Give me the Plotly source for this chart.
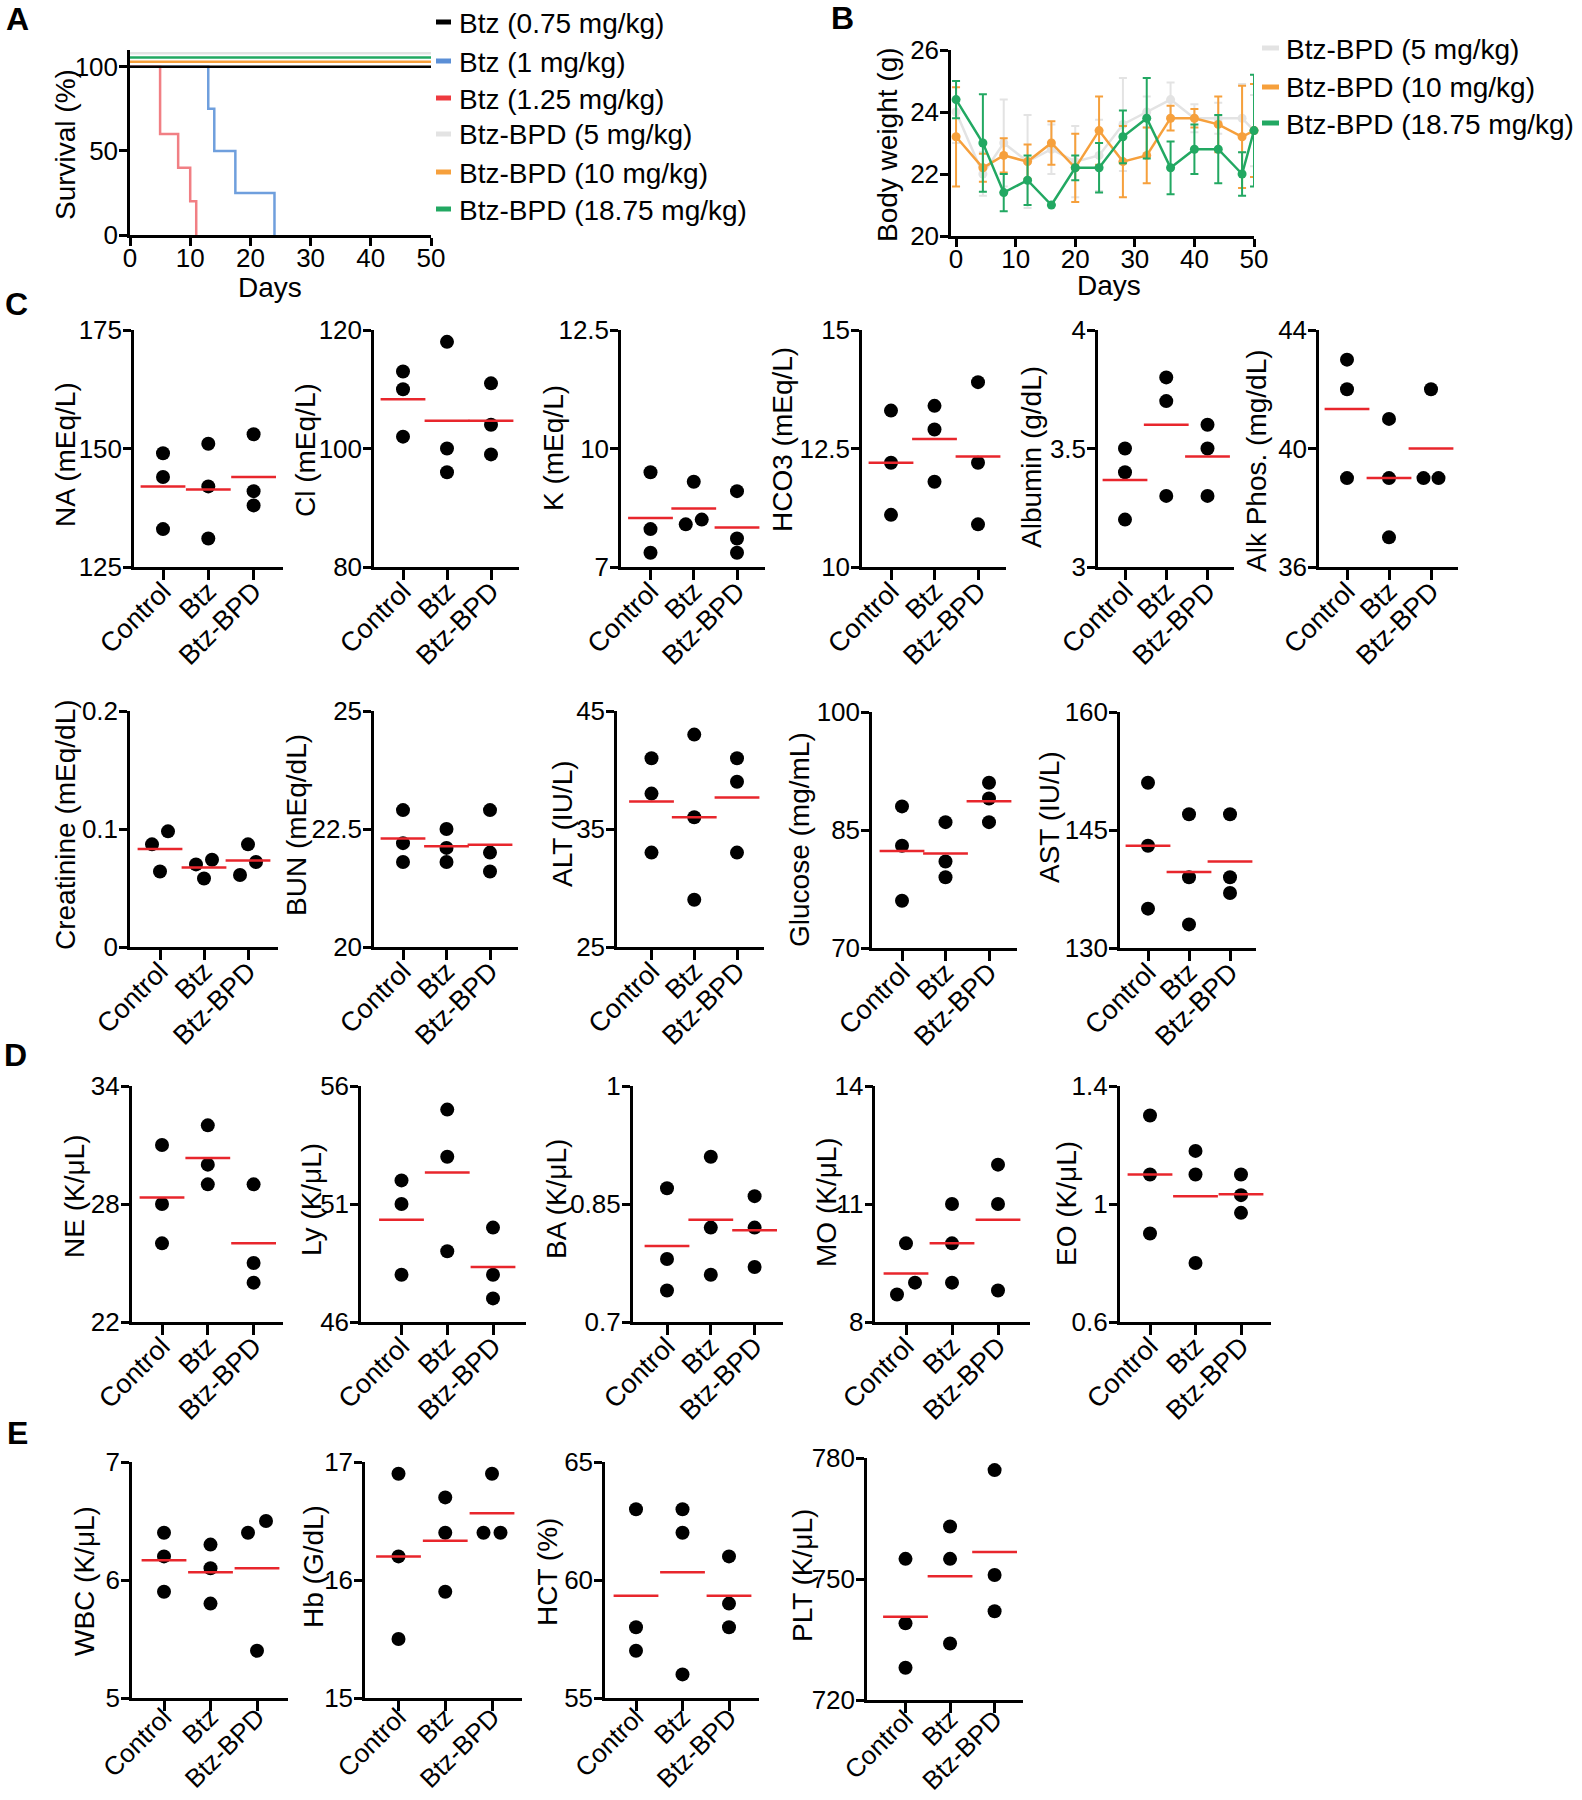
import plotly.graph_objects as go

W, H = 1582, 1800
FONT = "Liberation Sans, Arial, Helvetica, sans-serif"

# ======================= DATA =======================
# Panel A: survival (%)
surv_names = ["Btz (0.75 mg/kg)", "Btz (1 mg/kg)", "Btz (1.25 mg/kg)",
              "Btz-BPD (5 mg/kg)", "Btz-BPD (10 mg/kg)", "Btz-BPD (18.75 mg/kg)"]
surv_btz075_days = [0, 50]
surv_btz075_pct = [100, 100]
surv_btz1_days = [0, 13, 14, 17.5, 24]
surv_btz1_pct = [100, 75, 50, 25, 0]
surv_btz125_days = [0, 5, 8, 10, 11]
surv_btz125_pct = [100, 60, 40, 20, 0]
surv_bpd5_days = [0, 50]
surv_bpd5_pct = [100, 100]
surv_bpd10_days = [0, 50]
surv_bpd10_pct = [100, 100]
surv_bpd1875_days = [0, 50]
surv_bpd1875_pct = [100, 100]
surv_x_ticks = [0, 10, 20, 30, 40, 50]
surv_y_ticks = [0, 50, 100]

# Panel B: body weight (g), mean +/- error
bw_names = ["Btz-BPD (5 mg/kg)", "Btz-BPD (10 mg/kg)", "Btz-BPD (18.75 mg/kg)"]
bw_days = [0, 4.5, 8, 12, 16, 20, 24, 28, 32, 36, 40, 44, 48, 50]
bw5_mean = [24.0, 22.0, 23.0, 22.4, 22.8, 22.4, 22.6, 23.6, 24.0, 24.4, 23.8, 23.8, 23.8, 23.4]
bw5_err = [1.0, 0.7, 1.4, 1.5, 0.8, 1.15, 1.15, 1.5, 0.5, 0.55, 0.45, 0.5, 1.1, 1.15]
bw10_mean = [23.2, 22.2, 22.6, 22.4, 23.0, 22.2, 23.4, 22.4, 22.6, 23.8, 23.8, 23.6, 23.2, 23.4]
bw10_err = [1.6, 0.45, 0.55, 0.55, 0.7, 1.1, 1.1, 1.15, 0.9, 0.4, 0.3, 0.9, 1.65, 1.5]
bw1875_mean = [24.4, 23.0, 21.4, 21.8, 21.0, 22.2, 22.2, 23.2, 23.8, 22.2, 22.8, 22.8, 22.0, 23.4]
bw1875_err = [0.6, 1.57, 0.6, 0.8, 0.0, 0.4, 0.8, 0.85, 1.3, 0.85, 0.8, 1.1, 0.7, 1.8]
bw_x_ticks = [0, 10, 20, 30, 40, 50]
bw_y_ticks = [20, 22, 24, 26]

# Panels C-E: individual values per group
groups = ["Control", "Btz", "Btz-BPD"]
na_vals = [[149, 144, 133], [151, 142, 131], [153, 141, 138]]
cl_vals = [[113, 110, 102], [118, 100, 96], [111, 104, 99]]
k_vals = [[9.5, 8.3, 7.8], [9.3, 8.5, 8.4], [9.1, 8.1, 7.8]]
hco3_vals = [[13.3, 12.2, 11.1], [13.4, 12.9, 11.8], [13.9, 12.2, 10.9]]
alb_vals = [[3.5, 3.4, 3.2], [3.8, 3.7, 3.3], [3.6, 3.5, 3.3]]
alk_vals = [[43, 42, 39], [41, 39, 37], [42, 39, 39]]
creat_vals = [[0.087, 0.098, 0.064], [0.070, 0.074, 0.058], [0.087, 0.072, 0.061]]
bun_vals = [[22.9, 22.2, 21.8], [22.5, 22.1, 21.8], [22.9, 22.0, 21.6]]
alt_vals = [[41, 38, 33], [43, 36, 29], [41, 39, 33]]
glu_vals = [[88, 83, 76], [86, 81, 79], [91, 89, 86]]
ast_vals = [[151, 143, 135], [147, 139, 133], [147, 139, 137]]
ne_vals = [[31, 28, 26], [32, 30, 29], [29, 25, 24]]
ly_vals = [[52, 51, 48], [55, 53, 49], [50, 48, 47]]
ba_vals = [[0.87, 0.78, 0.74], [0.91, 0.82, 0.76], [0.86, 0.82, 0.77]]
mo_vals = [[10, 9, 8.7], [11, 10, 9], [12, 11, 8.8]]
eo_vals = [[1.3, 1.1, 0.9], [1.18, 1.1, 0.8], [1.1, 1.03, 0.97]]
wbc_vals = [[6.4, 6.2, 5.9], [6.3, 6.1, 5.8], [6.4, 6.5, 5.4]]
hb_vals = [[16.9, 16.2, 15.5], [16.7, 16.4, 15.9], [16.9, 16.4, 16.4]]
hct_vals = [[63, 58, 57], [63, 62, 56], [61, 59, 58]]
plt_vals = [[755, 739, 728], [763, 755, 734], [777, 751, 742]]

# y tick values and their labels
na_ticks, na_labels = [125, 150, 175], ["125", "150", "175"]
cl_ticks, cl_labels = [80, 100, 120], ["80", "100", "120"]
k_ticks, k_labels = [7.5, 10, 12.5], ["7", "10", "12.5"]
hco3_ticks, hco3_labels = [10, 12.5, 15], ["10", "12.5", "15"]
alb_ticks, alb_labels = [3, 3.5, 4], ["3", "3.5", "4"]
alk_ticks, alk_labels = [36, 40, 44], ["36", "40", "44"]
creat_ticks, creat_labels = [0, 0.1, 0.2], ["0", "0.1", "0.2"]
bun_ticks, bun_labels = [20, 22.5, 25], ["20", "22.5", "25"]
alt_ticks, alt_labels = [25, 35, 45], ["25", "35", "45"]
glu_ticks, glu_labels = [70, 85, 100], ["70", "85", "100"]
ast_ticks, ast_labels = [130, 145, 160], ["130", "145", "160"]
ne_ticks, ne_labels = [22, 28, 34], ["22", "28", "34"]
ly_ticks, ly_labels = [46, 51, 56], ["46", "51", "56"]
ba_ticks, ba_labels = [0.7, 0.85, 1.0], ["0.7", "0.85", "1"]
mo_ticks, mo_labels = [8, 11, 14], ["8", "11", "14"]
eo_ticks, eo_labels = [0.6, 1.0, 1.4], ["0.6", "1", "1.4"]
wbc_ticks, wbc_labels = [5, 6, 7], ["5", "6", "7"]
hb_ticks, hb_labels = [15, 16, 17], ["15", "16", "17"]
hct_ticks, hct_labels = [55, 60, 65], ["55", "60", "65"]
plt_ticks, plt_labels = [720, 750, 780], ["720", "750", "780"]

# ======================= STYLE / LAYOUT =======================
C_BLACK = "#000000"
C_BLUE, C_BLUE_LINE = "#5b8fd6", "#6f9fdd"
C_RED, C_RED_LINE = "#ee3a3f", "#f17f84"
C_GREY = "#e3e3e3"
C_ORANGE = "#f6a03c"
C_GREEN = "#22a862"
C_MEAN = "#e8262c"

TICK_SIZE = 26
TITLE_SIZE = 28
LEGEND_SIZE = 28

traces = []
layout_axes = {}
annotations = []
shapes = []


def fx(px):
    return px / W


def fy(py):
    return 1 - py / H


def base_axis():
    return dict(showline=True, linecolor="black", linewidth=2.5, ticks="outside",
                ticklen=8, tickwidth=2.5, tickcolor="black", showgrid=False,
                zeroline=False, automargin=False,
                tickfont=dict(family=FONT, size=TICK_SIZE, color="black"))


def add_title(text, cx, cy, size=TITLE_SIZE, angle=-90):
    annotations.append(dict(text=text, x=fx(cx), y=fy(cy), xref="paper", yref="paper",
                            showarrow=False, textangle=angle, xanchor="center", yanchor="middle",
                            font=dict(family=FONT, size=size, color="black")))


def add_legend(names, colors, key_x0, key_x1, text_x, rows_y, key_h=5):
    for nm, col, ry in zip(names, colors, rows_y):
        shapes.append(dict(type="rect", xref="paper", yref="paper",
                           x0=fx(key_x0), x1=fx(key_x1), y0=fy(ry + key_h / 2), y1=fy(ry - key_h / 2),
                           fillcolor=col, line=dict(width=0)))
        annotations.append(dict(text=nm, x=fx(text_x), y=fy(ry + 1), xref="paper", yref="paper",
                                showarrow=False, xanchor="left", yanchor="middle",
                                font=dict(family=FONT, size=LEGEND_SIZE, color="black")))


def padded(lo, hi):
    s = (hi - lo) * 1e-6
    return [lo - s, hi + s]


axis_idx = [0]


def new_axes(xdict, ydict):
    axis_idx[0] += 1
    i = axis_idx[0]
    sfx = "" if i == 1 else str(i)
    xdict["anchor"] = "y" + sfx
    ydict["anchor"] = "x" + sfx
    layout_axes["xaxis" + sfx] = xdict
    layout_axes["yaxis" + sfx] = ydict
    return "x" + sfx, "y" + sfx


# ---------- Panel A ----------
xa = base_axis()
xa.update(domain=[fx(130), fx(431)], range=[0, 50], tickvals=surv_x_ticks, ticklabelstandoff=-10)
ya = base_axis()
ya.update(domain=[fy(235), fy(50)], range=[0, 110], tickvals=surv_y_ticks, ticklabelstandoff=-4)
xr, yr = new_axes(xa, ya)

# (days, pct, line colour, display offset so the overlapping flat lines stay visible, name index)
surv_series = [
    (surv_btz1_days, surv_btz1_pct, C_BLUE_LINE, 0, 1),
    (surv_btz125_days, surv_btz125_pct, C_RED_LINE, 0, 2),
    (surv_bpd5_days, surv_bpd5_pct, C_GREY, 8, 3),
    (surv_bpd10_days, surv_bpd10_pct, C_ORANGE, 3, 4),
    (surv_bpd1875_days, surv_bpd1875_pct, C_GREEN, 5.5, 5),
    (surv_btz075_days, surv_btz075_pct, C_BLACK, 0, 0),
]
for d, p, col, off, ni in surv_series:
    traces.append(go.Scatter(x=d, y=[v + off for v in p], mode="lines", line=dict(color=col, width=2.5, shape="hv"),
                             xaxis=xr, yaxis=yr, showlegend=False, cliponaxis=False, name=surv_names[ni]))
add_legend(surv_names, [C_BLACK, C_BLUE, C_RED, C_GREY, C_ORANGE, C_GREEN],
           436, 451, 457, [22, 61, 98, 134, 172, 209])
add_title("Survival (%)", 65, 145)
add_title("Days", 270, 287, angle=0)

# ---------- Panel B ----------
xb = base_axis()
xb.update(domain=[fx(951), fx(1254)], range=[-0.85, 50], tickvals=bw_x_ticks, ticklabelstandoff=-10)
yb = base_axis()
yb.update(domain=[fy(236), fy(50)], range=padded(20, 26), tickvals=bw_y_ticks, ticklabelstandoff=-4)
xr, yr = new_axes(xb, yb)
for mean, err, col, nm in [(bw5_mean, bw5_err, C_GREY, bw_names[0]),
                           (bw10_mean, bw10_err, C_ORANGE, bw_names[1]),
                           (bw1875_mean, bw1875_err, C_GREEN, bw_names[2])]:
    traces.append(go.Scatter(x=bw_days, y=mean, mode="lines+markers",
                             line=dict(color=col, width=2.5), marker=dict(color=col, size=9),
                             error_y=dict(type="data", array=err, visible=True, color=col, thickness=2, width=4),
                             xaxis=xr, yaxis=yr, showlegend=False, cliponaxis=False, name=nm))
add_legend(bw_names, [C_GREY, C_ORANGE, C_GREEN], 1262, 1279, 1284, [48, 87, 123])
add_title("Body weight (g)", 887, 145)
add_title("Days", 1109, 285, angle=0)

# ---------- Scatter panels ----------
# geometry: (axis left px, axis right px, first category px, last category px, top px, bottom px)
# cs / so: category label font size and standoff; jit: horizontal dot offsets (px) where dots would overlap
ROW = dict(cs=27, so=-15)
LAST = dict(cs=26, so=-19)
panels = [
    dict(v=na_vals, t=na_ticks, l=na_labels, title="NA (mEq/L)", g=(134, 283, 163, 253.6, 330, 567), tp=(65, 455), **ROW),
    dict(v=cl_vals, t=cl_ticks, l=cl_labels, title="Cl (mEq/L)", g=(374, 519, 403, 491, 330, 567), tp=(305, 450), **ROW),
    dict(v=k_vals, t=k_ticks, l=k_labels, title="K (mEq/L)", g=(621, 765, 650.5, 737, 330, 567), tp=(553, 448),
         jit=[[0, 0, 0], [0, 8, -8], [0, 0, 0]], **ROW),
    dict(v=hco3_vals, t=hco3_ticks, l=hco3_labels, title="HCO3 (mEq/L)", g=(862, 1006, 891, 978, 330, 567), tp=(782, 440), **ROW),
    dict(v=alb_vals, t=alb_ticks, l=alb_labels, title="Albumin (g/dL)", g=(1098, 1234, 1125, 1207.5, 330, 567), tp=(1032, 457), **ROW),
    dict(v=alk_vals, t=alk_ticks, l=alk_labels, title="Alk Phos. (mg/dL)", g=(1319, 1458, 1347, 1431, 330, 567), tp=(1256, 461),
         jit=[[0, 0, 0], [0, 0, 0], [0, -7.5, 7.5]], **ROW),
    dict(v=creat_vals, t=creat_ticks, l=creat_labels, title="Creatinine (mEq/dL)", g=(130, 278, 160, 248, 711, 947), tp=(66, 825),
         jit=[[-8, 8, 0], [-8, 8, 0], [0, 8, -8]], **ROW),
    dict(v=bun_vals, t=bun_ticks, l=bun_labels, title="BUN (mEq/dL)", g=(374, 518, 403, 490, 711, 947), tp=(297, 825), **ROW),
    dict(v=alt_vals, t=alt_ticks, l=alt_labels, title="ALT (IU/L)", g=(617, 764, 651.5, 737, 711, 947), tp=(562, 824), **ROW),
    dict(v=glu_vals, t=glu_ticks, l=glu_labels, title="Glucose (mg/mL)", g=(872, 1017, 902, 989, 712, 948), tp=(799, 840), **ROW),
    dict(v=ast_vals, t=ast_ticks, l=ast_labels, title="AST (IU/L)", g=(1120, 1256, 1148, 1230, 712, 948), tp=(1049, 817), **ROW),
    dict(v=ne_vals, t=ne_ticks, l=ne_labels, title="NE (K/μL)", g=(131.6, 283, 162, 253.6, 1086, 1322), tp=(74, 1197), **ROW),
    dict(v=ly_vals, t=ly_ticks, l=ly_labels, title="Ly (K/μL)", g=(361, 525.5, 401.5, 493, 1086, 1322), tp=(311, 1200), **ROW),
    dict(v=ba_vals, t=ba_ticks, l=ba_labels, title="BA (K/μL)", g=(632.7, 783, 667, 754.6, 1086, 1322), tp=(556, 1199), **ROW),
    dict(v=mo_vals, t=mo_ticks, l=mo_labels, title="MO (K/μL)", g=(875.4, 1029.5, 906, 998, 1086, 1322), tp=(826, 1202),
         jit=[[0, 9, -9], [0, 0, 0], [0, 0, 0]], **ROW),
    dict(v=eo_vals, t=eo_ticks, l=eo_labels, title="EO (K/μL)", g=(1119.6, 1270.5, 1150, 1241, 1086, 1322), tp=(1066, 1204), **ROW),
    dict(v=wbc_vals, t=wbc_ticks, l=wbc_labels, title="WBC (K/μL)", g=(132, 288, 164, 257, 1462, 1698), tp=(84, 1581),
         jit=[[0, 0, 0], [0, 0, 0], [-9, 9, 0]], **LAST),
    dict(v=hb_vals, t=hb_ticks, l=hb_labels, title="Hb (G/dL)", g=(365, 522, 398.5, 492, 1462, 1698), tp=(313, 1567),
         jit=[[0, 0, 0], [0, 0, 0], [0, -8.5, 8.5]], **LAST),
    dict(v=hct_vals, t=hct_ticks, l=hct_labels, title="HCT (%)", g=(605, 759, 636, 729, 1462, 1698), tp=(547, 1572), **LAST),
    dict(v=plt_vals, t=plt_ticks, l=plt_labels, title="PLT (K/μL)", g=(867, 1023, 905.5, 994.6, 1458, 1700), tp=(802, 1576), **LAST),
]

for p in panels:
    x0, x1, c0, c2, ytop, ybot = p["g"]
    upx = (c2 - c0) / 2.0
    lo = (x0 - c0) / upx
    hi = 2 + (x1 - c2) / upx
    xa = base_axis()
    xa.update(domain=[fx(x0), fx(x1)], range=[lo, hi], tickvals=[0, 1, 2], ticktext=groups,
              tickangle=-45, ticklen=10, ticklabelstandoff=p["so"],
              tickfont=dict(family=FONT, size=p["cs"], color="black"))
    ya = base_axis()
    ya.update(domain=[fy(ybot), fy(ytop)], range=padded(p["t"][0], p["t"][-1]),
              tickvals=p["t"], ticktext=p["l"], ticklabelstandoff=-4)
    xr, yr = new_axes(xa, ya)
    jit = p.get("jit", [[0, 0, 0]] * 3)
    xs, ys = [], []
    for gi, vals in enumerate(p["v"]):
        for vi, val in enumerate(vals):
            xs.append(gi + jit[gi][vi] / upx)
            ys.append(val)
    traces.append(go.Scatter(x=xs, y=ys, mode="markers", marker=dict(color="black", size=14),
                             xaxis=xr, yaxis=yr, showlegend=False, cliponaxis=False, name=p["title"]))
    means = [sum(v) / len(v) for v in p["v"]]
    traces.append(go.Scatter(x=[0, 1, 2], y=means, mode="markers",
                             marker=dict(symbol="line-ew", size=32, line=dict(color=C_MEAN, width=2.5)),
                             xaxis=xr, yaxis=yr, showlegend=False, cliponaxis=False, name=p["title"] + " mean"))
    add_title(p["title"], p["tp"][0], p["tp"][1])

# panel letters
for letter, (lx, ly) in {"A": (17, 19), "B": (843, 18), "C": (16, 304), "D": (15, 1055), "E": (17, 1433)}.items():
    annotations.append(dict(text="<b>%s</b>" % letter, x=fx(lx), y=fy(ly), xref="paper", yref="paper",
                            showarrow=False, xanchor="center", yanchor="middle",
                            font=dict(family=FONT, size=32, color="black")))

fig = go.Figure(data=traces)
fig.update_layout(
    width=W, height=H, margin=dict(l=0, r=0, t=0, b=0, autoexpand=False),
    paper_bgcolor="white", plot_bgcolor="rgba(0,0,0,0)",
    font=dict(family=FONT, color="black"),
    showlegend=False,
    annotations=annotations,
    shapes=shapes,
    **layout_axes,
)

fig.write_html("out.html", include_plotlyjs=True, full_html=True,
               config={"displayModeBar": False},
               post_script="document.body.style.margin='0';document.body.style.overflow='hidden';")
